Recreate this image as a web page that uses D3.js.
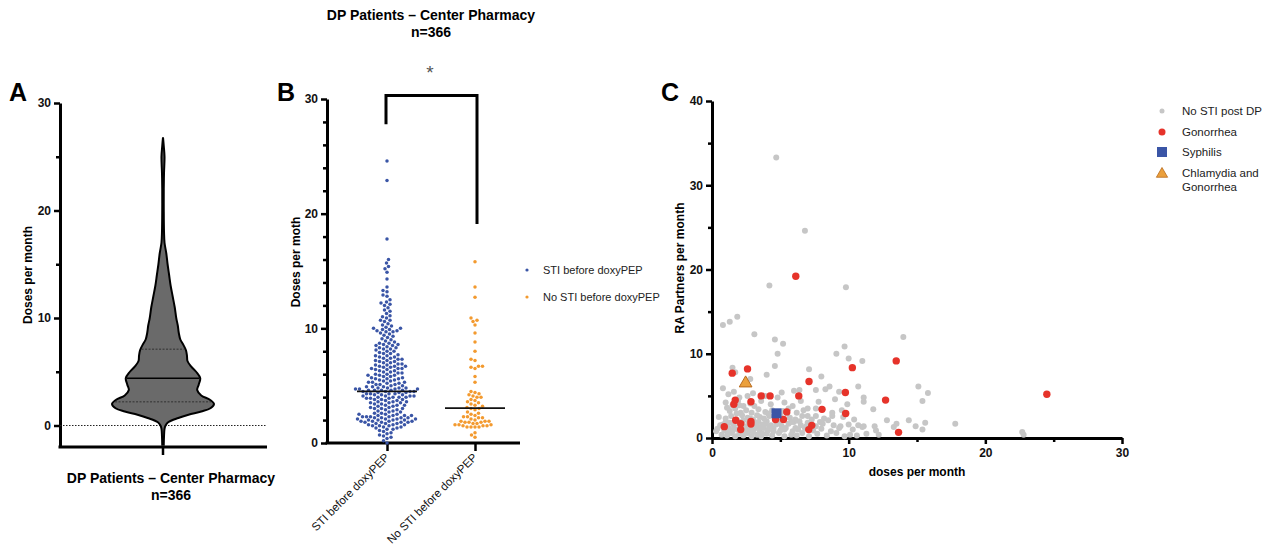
<!DOCTYPE html>
<html>
<head>
<meta charset="utf-8">
<script src="https://cdn.jsdelivr.net/npm/d3@7"></script>
<style>
  body { margin: 0; background: #fff; }
  svg text { font-family: "Liberation Sans", Arial, sans-serif; }
</style>
</head>
<body>
<svg id="fig" width="1268" height="551"></svg>
<script>
// ---- panel A : violin profile (relative half-width at each dose level)
const violinLevels = [-1.8, -1, -0.3, 0, 0.3, 0.7, 1.0, 1.3, 1.6, 2.0, 2.4, 2.8, 3.3, 3.8, 4.4, 5.0, 5.5, 6.0, 6.5, 7.0, 7.5, 8.0, 8.6, 9.3, 10, 11, 12, 13, 14, 15, 16, 17, 18, 20, 22, 23.5, 25, 26, 26.8]
const violinWidths = [0.015, 0.02, 0.03, 0.05, 0.1, 0.3, 0.5, 0.75, 0.93, 1.0, 0.92, 0.75, 0.67, 0.7, 0.73, 0.65, 0.55, 0.48, 0.47, 0.45, 0.4, 0.34, 0.31, 0.29, 0.26, 0.23, 0.19, 0.15, 0.12, 0.09, 0.065, 0.03, 0.02, 0.015, 0.015, 0.02, 0.03, 0.015, 0]
const violinMedian = 4.4
const violinQuartiles = [2.2, 7.1]

// ---- panel B : doses per month by group
const groupNames = ["STI before doxyPEP", "No STI before doxyPEP"]
const stiDoses = [
  24.6, 22.9, 17.8, 16.0, 15.7, 15.4, 15.2, 14.9, 14.3, 13.6, 13.3, 13.2,
  12.9, 12.8, 12.5, 12.3, 12.2, 12.1, 12.0, 11.8, 11.6, 11.5, 11.3, 11.1, 11.0,
  10.9, 10.7, 10.7, 10.6, 10.4, 10.3, 10.2, 10.1, 10.0, 10.0, 9.9, 9.9, 9.8, 9.8, 9.7, 9.7, 9.6, 9.5,
  9.4, 9.3, 9.2, 9.1, 9.0, 8.9, 8.8, 8.7, 8.7, 8.6, 8.6, 8.5, 8.5,
  8.4, 8.3, 8.3, 8.2, 8.2, 8.1, 8.0, 8.0, 7.9, 7.8, 7.8, 7.7, 7.6, 7.6, 7.5, 7.5,
  7.4, 7.4, 7.3, 7.3, 7.2, 7.2, 7.1, 7.1, 7.0, 7.0,
  6.9, 6.9, 6.8, 6.8, 6.7, 6.7, 6.7, 6.6, 6.6, 6.5, 6.5, 6.5,
  6.4, 6.4, 6.3, 6.3, 6.2, 6.2, 6.1, 6.1, 6.0, 6.0,
  5.9, 5.9, 5.9, 5.8, 5.8, 5.7, 5.7, 5.6, 5.6, 5.6, 5.5, 5.5,
  5.4, 5.4, 5.3, 5.3, 5.3, 5.2, 5.2, 5.1, 5.1, 5.1, 5.0, 5.0,
  4.9, 4.9, 4.9, 4.8, 4.8, 4.8, 4.8, 4.7, 4.7, 4.7, 4.7, 4.6, 4.6, 4.6, 4.6, 4.6, 4.5, 4.5, 4.5, 4.5,
  4.4, 4.4, 4.4, 4.3, 4.3, 4.3, 4.3, 4.2, 4.2, 4.2, 4.1, 4.1, 4.1, 4.1, 4.0, 4.0, 4.0, 4.0,
  3.9, 3.9, 3.9, 3.8, 3.8, 3.8, 3.7, 3.7, 3.6, 3.6, 3.6, 3.5, 3.5, 3.5,
  3.4, 3.4, 3.3, 3.3, 3.3, 3.2, 3.2, 3.1, 3.1, 3.0, 3.0, 3.0,
  2.9, 2.9, 2.8, 2.8, 2.7, 2.7, 2.6, 2.6, 2.5, 2.5, 2.5,
  2.4, 2.4, 2.4, 2.4, 2.3, 2.3, 2.3, 2.3, 2.2, 2.2, 2.2, 2.2, 2.1, 2.1, 2.1, 2.1, 2.0, 2.0, 2.0, 2.0,
  1.9, 1.9, 1.9, 1.9, 1.8, 1.8, 1.8, 1.8, 1.7, 1.7, 1.7, 1.6, 1.6, 1.6, 1.5, 1.5, 1.5,
  1.4, 1.4, 1.3, 1.3, 1.2, 1.2, 1.1, 1.0,
  0.9, 0.8, 0.7, 0.6, 0.5, 0.4, 0.2, 0.0
]
const noStiDoses = [
  15.8, 13.6, 12.7, 10.9, 10.7, 10.6, 10.3, 9.6, 8.8, 8.0, 7.3, 7.2,
  6.7, 6.7, 6.6, 6.5, 5.8, 5.3,
  4.5, 4.4, 4.3, 4.2, 4.1, 4.0, 4.0, 3.8, 3.7, 3.6, 3.5, 3.4, 3.3, 3.2, 3.1, 3.0, 3.0,
  2.9, 2.7, 2.6, 2.5, 2.4, 2.3, 2.3, 2.2, 2.2, 2.1, 2.0,
  1.9, 1.9, 1.9, 1.8, 1.8, 1.8, 1.7, 1.7, 1.6, 1.6, 1.6, 1.5, 1.5, 1.5, 1.4, 1.4, 1.4, 1.4,
  0.9, 0.7, 0.5
]
const groupMedians = [4.5, 3.05]

// ---- panel C : [doses per month, RA partners per month]
const noStiPoints = [
  [0.3,0.8],[0.7,0.4],[1.1,0.3],[1.4,0.6],[1.7,0.2],[2.0,0.5],[2.3,0.3],[2.6,0.6],[2.9,0.2],[3.3,0.4],
  [3.6,0.2],[4.0,0.5],[4.4,0.3],[4.9,0.6],[5.3,0.2],[5.8,0.4],[6.2,0.3],[6.6,0.6],[7.1,0.2],[7.7,0.5],
  [8.4,0.3],[9.1,0.6],[9.7,0.2],[10.1,0.4],[10.6,0.3],[11.3,0.5],[12.2,0.4],[22.8,0.4],
  [0.4,1.1],[0.9,0.9],[1.2,1.2],[1.5,0.8],[1.9,1.0],[2.2,0.8],[2.5,1.2],[2.8,0.9],[3.1,1.1],[3.5,0.8],
  [3.8,1.2],[4.1,0.9],[4.5,1.1],[5.0,0.9],[5.4,1.2],[5.9,0.8],[6.3,1.0],[6.8,1.2],[7.4,0.9],[8.0,1.1],
  [8.7,0.8],[9.3,1.2],[10.3,1.0],[11.0,1.3],[12.0,0.9],[13.3,1.3],[15.4,1.0],[22.7,0.7],
  [0.8,1.6],[1.3,1.8],[1.6,1.5],[2.0,1.9],[2.4,1.4],[2.7,1.8],[3.0,1.5],[3.4,1.9],[3.7,1.6],[4.0,2.0],
  [4.3,1.5],[4.8,1.8],[5.1,1.4],[5.6,1.7],[6.0,1.9],[6.5,1.5],[7.0,1.8],[7.6,1.4],[8.1,1.7],[8.9,1.5],
  [9.4,1.4],[10.0,1.6],[10.7,1.5],[11.1,1.4],[11.9,1.4],[13.5,1.7],[14.9,1.4],[15.6,1.8],[17.8,1.7],
  [1.0,2.3],[1.4,2.6],[1.8,2.2],[2.2,2.7],[2.6,2.4],[3.0,2.2],[3.3,2.7],[3.8,2.3],[4.2,2.6],[4.6,2.3],
  [5.0,2.7],[5.7,2.4],[6.1,2.2],[6.6,2.6],[7.0,2.6],[7.6,2.6],[8.2,2.3],[8.8,2.6],[9.6,2.5],[10.4,2.2],
  [12.8,2.1],[14.4,2.1],
  [1.3,3.2],[1.7,3.5],[2.1,3.0],[2.5,3.3],[2.9,3.0],[3.4,3.4],[3.9,3.1],[4.4,3.3],[5.2,3.2],[5.6,3.5],
  [6.2,3.0],[6.7,3.3],[7.0,3.5],[7.6,3.5],[8.8,3.0],[9.5,3.3],[11.8,3.4],
  [1.0,4.2],[1.5,3.9],[1.9,4.4],[2.3,3.8],[2.8,4.1],[3.6,4.4],[4.3,4.0],[5.3,4.2],[5.9,3.8],[6.5,4.4],
  [7.8,4.3],[9.0,4.6],[9.9,4.0],[11.1,4.3],[15.4,4.4],
  [1.2,5.2],[1.6,5.5],[2.0,4.8],[2.6,5.0],[3.0,5.3],[3.9,5.0],[4.8,4.8],[5.1,5.4],[6.0,5.6],[6.4,5.7],
  [7.6,5.7],[8.3,5.8],[9.3,5.5],[11.1,4.8],[15.8,5.35],[0.8,5.9],[8.6,6.1],[10.7,6.1],[15.1,6.1],
  [1.5,8.35],[1.7,7.8],[2.8,7.0],[4.0,7.5],[4.6,8.55],[7.1,8.15],[8.0,7.3],[9.1,10.0],[9.7,10.85],
  [10.0,9.45],[11.0,9.15],[4.8,10.0],[4.6,11.7],[5.2,11.2],[3.1,12.3],[0.8,13.4],[1.3,13.8],[1.85,14.4],
  [14.0,12.0],[4.2,18.1],[9.8,17.9],[6.8,24.6],[4.7,33.3],
  [0.6,1.5],[1.0,1.9],[1.2,0.6],[1.6,1.1],[1.8,2.9],[2.1,1.4],[2.3,2.1],[2.4,0.9],[2.7,1.5],[2.8,2.3],
  [3.0,0.7],[3.2,1.8],[3.4,1.3],[3.5,2.5],[3.7,0.5],[3.9,1.7],[4.1,2.9],[4.2,1.3],[4.5,0.8],[4.7,1.6],
  [5.0,2.0],[5.3,1.0],[5.5,2.9],[5.8,1.9],[6.1,1.2],[6.4,2.0],[6.9,1.4],[7.3,2.2],[7.9,1.9],[8.5,2.1],
  [1.1,3.6],[2.0,3.9],[3.1,3.8],[0.5,2.5]
]
const gonorrheaPoints = [
  [6.13,19.2],[1.48,7.7],[2.6,8.2],[1.7,4.5],[1.6,4.0],[2.85,4.3],[3.6,5.0],[4.25,5.0],[7.1,6.7],[6.35,5.0],
  [8.05,3.4],[9.76,5.4],[9.78,2.9],[10.27,8.35],[13.48,9.15],[12.7,4.5],[13.65,0.67],[24.5,5.2],[5.47,3.1],
  [5.23,2.2],[4.65,2.2],[0.9,1.35],[1.73,2.1],[2.1,1.7],[2.1,1.0],[2.85,1.95],[2.85,1.65],[7.3,1.5],[7.08,1.0]
]
const syphilisPoints = [[4.72, 2.93]]
const chlamydiaPoints = [[2.46, 6.5]]
const legendCLabels = [["No STI post DP"], ["Gonorrhea"], ["Syphilis"], ["Chlamydia and", "Gonorrhea"]]

const blue = "#3a55a6", orange = "#f39a2f", grey = "#c6c6c6", red = "#e6332a"
const svg = d3.select("#fig")

function styleAxis(g) {
  g.attr("font-family", "Liberation Sans, Arial, sans-serif")
  g.select(".domain").attr("stroke-width", 3)
  g.selectAll(".tick line").attr("stroke-width", 2.5)
  g.selectAll(".tick text").attr("font-weight", "bold").attr("font-size", 12).attr("fill", "#111")
}

function panelLetter(x, y, t) {
  svg.append("text").attr("x", x).attr("y", y).attr("font-size", 25).attr("font-weight", "bold").text(t)
}

function titleBlock(cx, y) {
  let t = svg.append("text").attr("text-anchor", "middle").attr("font-weight", "bold").attr("font-size", 14)
  t.append("tspan").attr("x", cx).attr("y", y).text("DP Patients – Center Pharmacy")
  t.append("tspan").attr("x", cx).attr("y", y + 17).text("n=366")
}

// ================= Panel A =================
const yA = d3.scaleLinear([-2, 30], [447, 103])
const cxA = 163, halfA = 51

svg.append("g").attr("transform", "translate(60,0)")
  .call(d3.axisLeft(yA).tickValues([0, 10, 20, 30]).tickSize(6).tickSizeOuter(0).tickPadding(3))
  .call(styleAxis)
svg.append("g").attr("transform", "translate(60,0)")
  .call(d3.axisLeft(yA).tickValues([5, 15, 25]).tickSize(4).tickFormat(""))
  .call(g => g.select(".domain").remove())
  .call(styleAxis)

svg.append("line").attr("x1", 58.5).attr("x2", 267).attr("y1", 447).attr("y2", 447)
  .attr("stroke", "#000").attr("stroke-width", 3)
svg.append("line").attr("x1", cxA).attr("x2", cxA).attr("y1", 447).attr("y2", 455)
  .attr("stroke", "#000").attr("stroke-width", 2.5)

svg.append("line").attr("x1", 60).attr("x2", 267).attr("y1", yA(0)).attr("y2", yA(0))
  .attr("stroke", "#222").attr("stroke-width", 1).attr("stroke-dasharray", "1.5,1.5")

const violinData = violinLevels.map((v, i) => ({ v: v, w: violinWidths[i] }))
const violinArea = d3.area()
  .y(d => yA(d.v))
  .x0(d => cxA - d.w * halfA)
  .x1(d => cxA + d.w * halfA)
  .curve(d3.curveCatmullRom)
svg.append("path").datum(violinData).attr("d", violinArea)
  .attr("fill", "#6a6a6a").attr("stroke", "#000").attr("stroke-width", 2)

const widthAt = d3.scaleLinear(violinLevels, violinWidths)
svg.append("line").attr("x1", cxA - widthAt(violinMedian) * halfA + 1).attr("x2", cxA + widthAt(violinMedian) * halfA - 1)
  .attr("y1", yA(violinMedian)).attr("y2", yA(violinMedian)).attr("stroke", "#000").attr("stroke-width", 1.6)
violinQuartiles.forEach(q => {
  svg.append("line").attr("x1", cxA - widthAt(q) * halfA + 1).attr("x2", cxA + widthAt(q) * halfA - 1)
    .attr("y1", yA(q)).attr("y2", yA(q)).attr("stroke", "#2a2a2a").attr("stroke-width", 0.9)
    .attr("stroke-dasharray", "2,1.5")
})

svg.append("text").attr("transform", "translate(32,275) rotate(-90)").attr("text-anchor", "middle")
  .attr("font-size", 12).attr("font-weight", "bold").text("Doses per month")
panelLetter(9, 101, "A")
titleBlock(171, 483)

// ================= Panel B =================
const yB = d3.scaleLinear([0, 30], [443, 99])
const xB = d3.scalePoint(groupNames, [387, 475])

svg.append("g").attr("transform", "translate(327,0)")
  .call(d3.axisLeft(yB).tickValues([0, 10, 20, 30]).tickSize(6).tickSizeOuter(0).tickPadding(3))
  .call(styleAxis)
svg.append("g").attr("transform", "translate(327,0)")
  .call(d3.axisLeft(yB).tickValues(d3.range(2, 30, 2).filter(v => v % 10 !== 0)).tickSize(4).tickFormat(""))
  .call(g => g.select(".domain").remove())
  .call(styleAxis)

svg.append("line").attr("x1", 325.5).attr("x2", 520).attr("y1", 443).attr("y2", 443)
  .attr("stroke", "#000").attr("stroke-width", 3)
svg.append("g").attr("transform", "translate(0,443)")
  .call(d3.axisBottom(xB).tickSize(8).tickSizeOuter(0).tickFormat(""))
  .call(g => g.select(".domain").remove())
  .call(styleAxis)
groupNames.forEach(n => {
  svg.append("text").attr("transform", `translate(${xB(n) + 3},${458}) rotate(-45)`)
    .attr("text-anchor", "end").attr("font-size", 11.5).attr("fill", "#111").text(n)
})

function dodge(values, cx, r) {
  const placed = []
  values.slice().sort((a, b) => a - b).forEach(v => {
    const py = yB(v)
    let px
    for (let i = 0; ; i++) {
      px = cx + (i % 2 === 0 ? 1 : -1) * Math.ceil(i / 2) * 0.5
      if (!placed.some(p => (p.x - px) ** 2 + (p.y - py) ** 2 < 4 * r * r)) break
    }
    placed.push({ x: px, y: py })
  })
  return placed
}

[[stiDoses, blue], [noStiDoses, orange]].forEach(([vals, col], i) => {
  svg.append("g").selectAll("circle").data(dodge(vals, xB(groupNames[i]), 1.95)).join("circle")
    .attr("cx", d => d.x).attr("cy", d => d.y).attr("r", 1.75).attr("fill", col)
  svg.append("line").attr("x1", xB(groupNames[i]) - 30).attr("x2", xB(groupNames[i]) + 30)
    .attr("y1", yB(groupMedians[i])).attr("y2", yB(groupMedians[i]))
    .attr("stroke", "#111").attr("stroke-width", 1.8)
})

// significance bracket
svg.append("path")
  .attr("d", `M${xB(groupNames[0]) - 1},${yB(27.8)}V${yB(30.3)}H${xB(groupNames[1]) + 2}V${yB(19.1)}`)
  .attr("fill", "none").attr("stroke", "#000").attr("stroke-width", 3)
svg.append("text").attr("x", 430).attr("y", 79).attr("text-anchor", "middle")
  .attr("font-size", 19).attr("fill", "#555").text("*")

svg.append("text").attr("transform", "translate(300,262) rotate(-90)").attr("text-anchor", "middle")
  .attr("font-size", 12).attr("font-weight", "bold").text("Doses per moth")
panelLetter(277, 101, "B")
titleBlock(431, 20)

const legB = svg.append("g")
;[blue, orange].forEach((c, i) => {
  legB.append("circle").attr("cx", 527).attr("cy", 270 + i * 27).attr("r", 1.6).attr("fill", c)
  legB.append("text").attr("x", 543).attr("y", 270 + i * 27).attr("dy", "0.35em")
    .attr("font-size", 11).attr("fill", "#222").text(groupNames[i])
})

// ================= Panel C =================
const xC = d3.scaleLinear([0, 30], [712, 1122])
const yC = d3.scaleLinear([0, 40], [438, 101])

svg.append("g").attr("transform", "translate(712,0)")
  .call(d3.axisLeft(yC).tickValues([0, 10, 20, 30, 40]).tickSize(6).tickSizeOuter(0).tickPadding(3))
  .call(styleAxis)
svg.append("g").attr("transform", "translate(712,0)")
  .call(d3.axisLeft(yC).tickValues([5, 15, 25, 35]).tickSize(4).tickFormat(""))
  .call(g => g.select(".domain").remove())
  .call(styleAxis)
svg.append("g").attr("transform", "translate(0,438)")
  .call(d3.axisBottom(xC).tickValues([0, 10, 20, 30]).tickSize(6).tickSizeOuter(0).tickPadding(4))
  .call(styleAxis)
svg.append("g").attr("transform", "translate(0,438)")
  .call(d3.axisBottom(xC).tickValues([5, 15, 25]).tickSize(4).tickFormat(""))
  .call(g => g.select(".domain").remove())
  .call(styleAxis)

svg.append("g").selectAll("circle").data(noStiPoints).join("circle")
  .attr("cx", d => xC(d[0])).attr("cy", d => yC(d[1])).attr("r", 3).attr("fill", grey)
svg.append("g").selectAll("circle").data(gonorrheaPoints).join("circle")
  .attr("cx", d => xC(d[0])).attr("cy", d => yC(d[1])).attr("r", 3.7).attr("fill", red)
svg.append("g").selectAll("rect").data(syphilisPoints).join("rect")
  .attr("x", d => xC(d[0]) - 5).attr("y", d => yC(d[1]) - 5).attr("width", 10).attr("height", 10)
  .attr("fill", blue)
const tri = d3.symbol(d3.symbolTriangle, 70)
svg.append("g").selectAll("path").data(chlamydiaPoints).join("path")
  .attr("transform", d => `translate(${xC(d[0])},${yC(d[1])})`).attr("d", tri)
  .attr("fill", "#eba03c").attr("stroke", "#b86a1c").attr("stroke-width", 1)

svg.append("text").attr("x", 917).attr("y", 476).attr("text-anchor", "middle")
  .attr("font-size", 12).attr("font-weight", "bold").text("doses per month")
svg.append("text").attr("transform", "translate(684,268) rotate(-90)").attr("text-anchor", "middle")
  .attr("font-size", 12).attr("font-weight", "bold").text("RA Partners per month")
panelLetter(661, 101, "C")

const legC = svg.append("g")
const legY = [111, 132, 152, 173]
legC.append("circle").attr("cx", 1162).attr("cy", legY[0]).attr("r", 2.5).attr("fill", grey)
legC.append("circle").attr("cx", 1162).attr("cy", legY[1]).attr("r", 3.5).attr("fill", red)
legC.append("rect").attr("x", 1157).attr("y", legY[2] - 5).attr("width", 10).attr("height", 10).attr("fill", blue)
legC.append("path").attr("transform", `translate(1162,${legY[3] + 1})`).attr("d", d3.symbol(d3.symbolTriangle, 55))
  .attr("fill", "#eba03c").attr("stroke", "#b86a1c").attr("stroke-width", 0.8)
legendCLabels.forEach((lines, i) => {
  lines.forEach((s, j) => {
    legC.append("text").attr("x", 1182).attr("y", legY[i] + j * 13.5).attr("dy", "0.35em")
      .attr("font-size", 11.5).attr("fill", "#222").text(s)
  })
})
</script>
</body>
</html>
